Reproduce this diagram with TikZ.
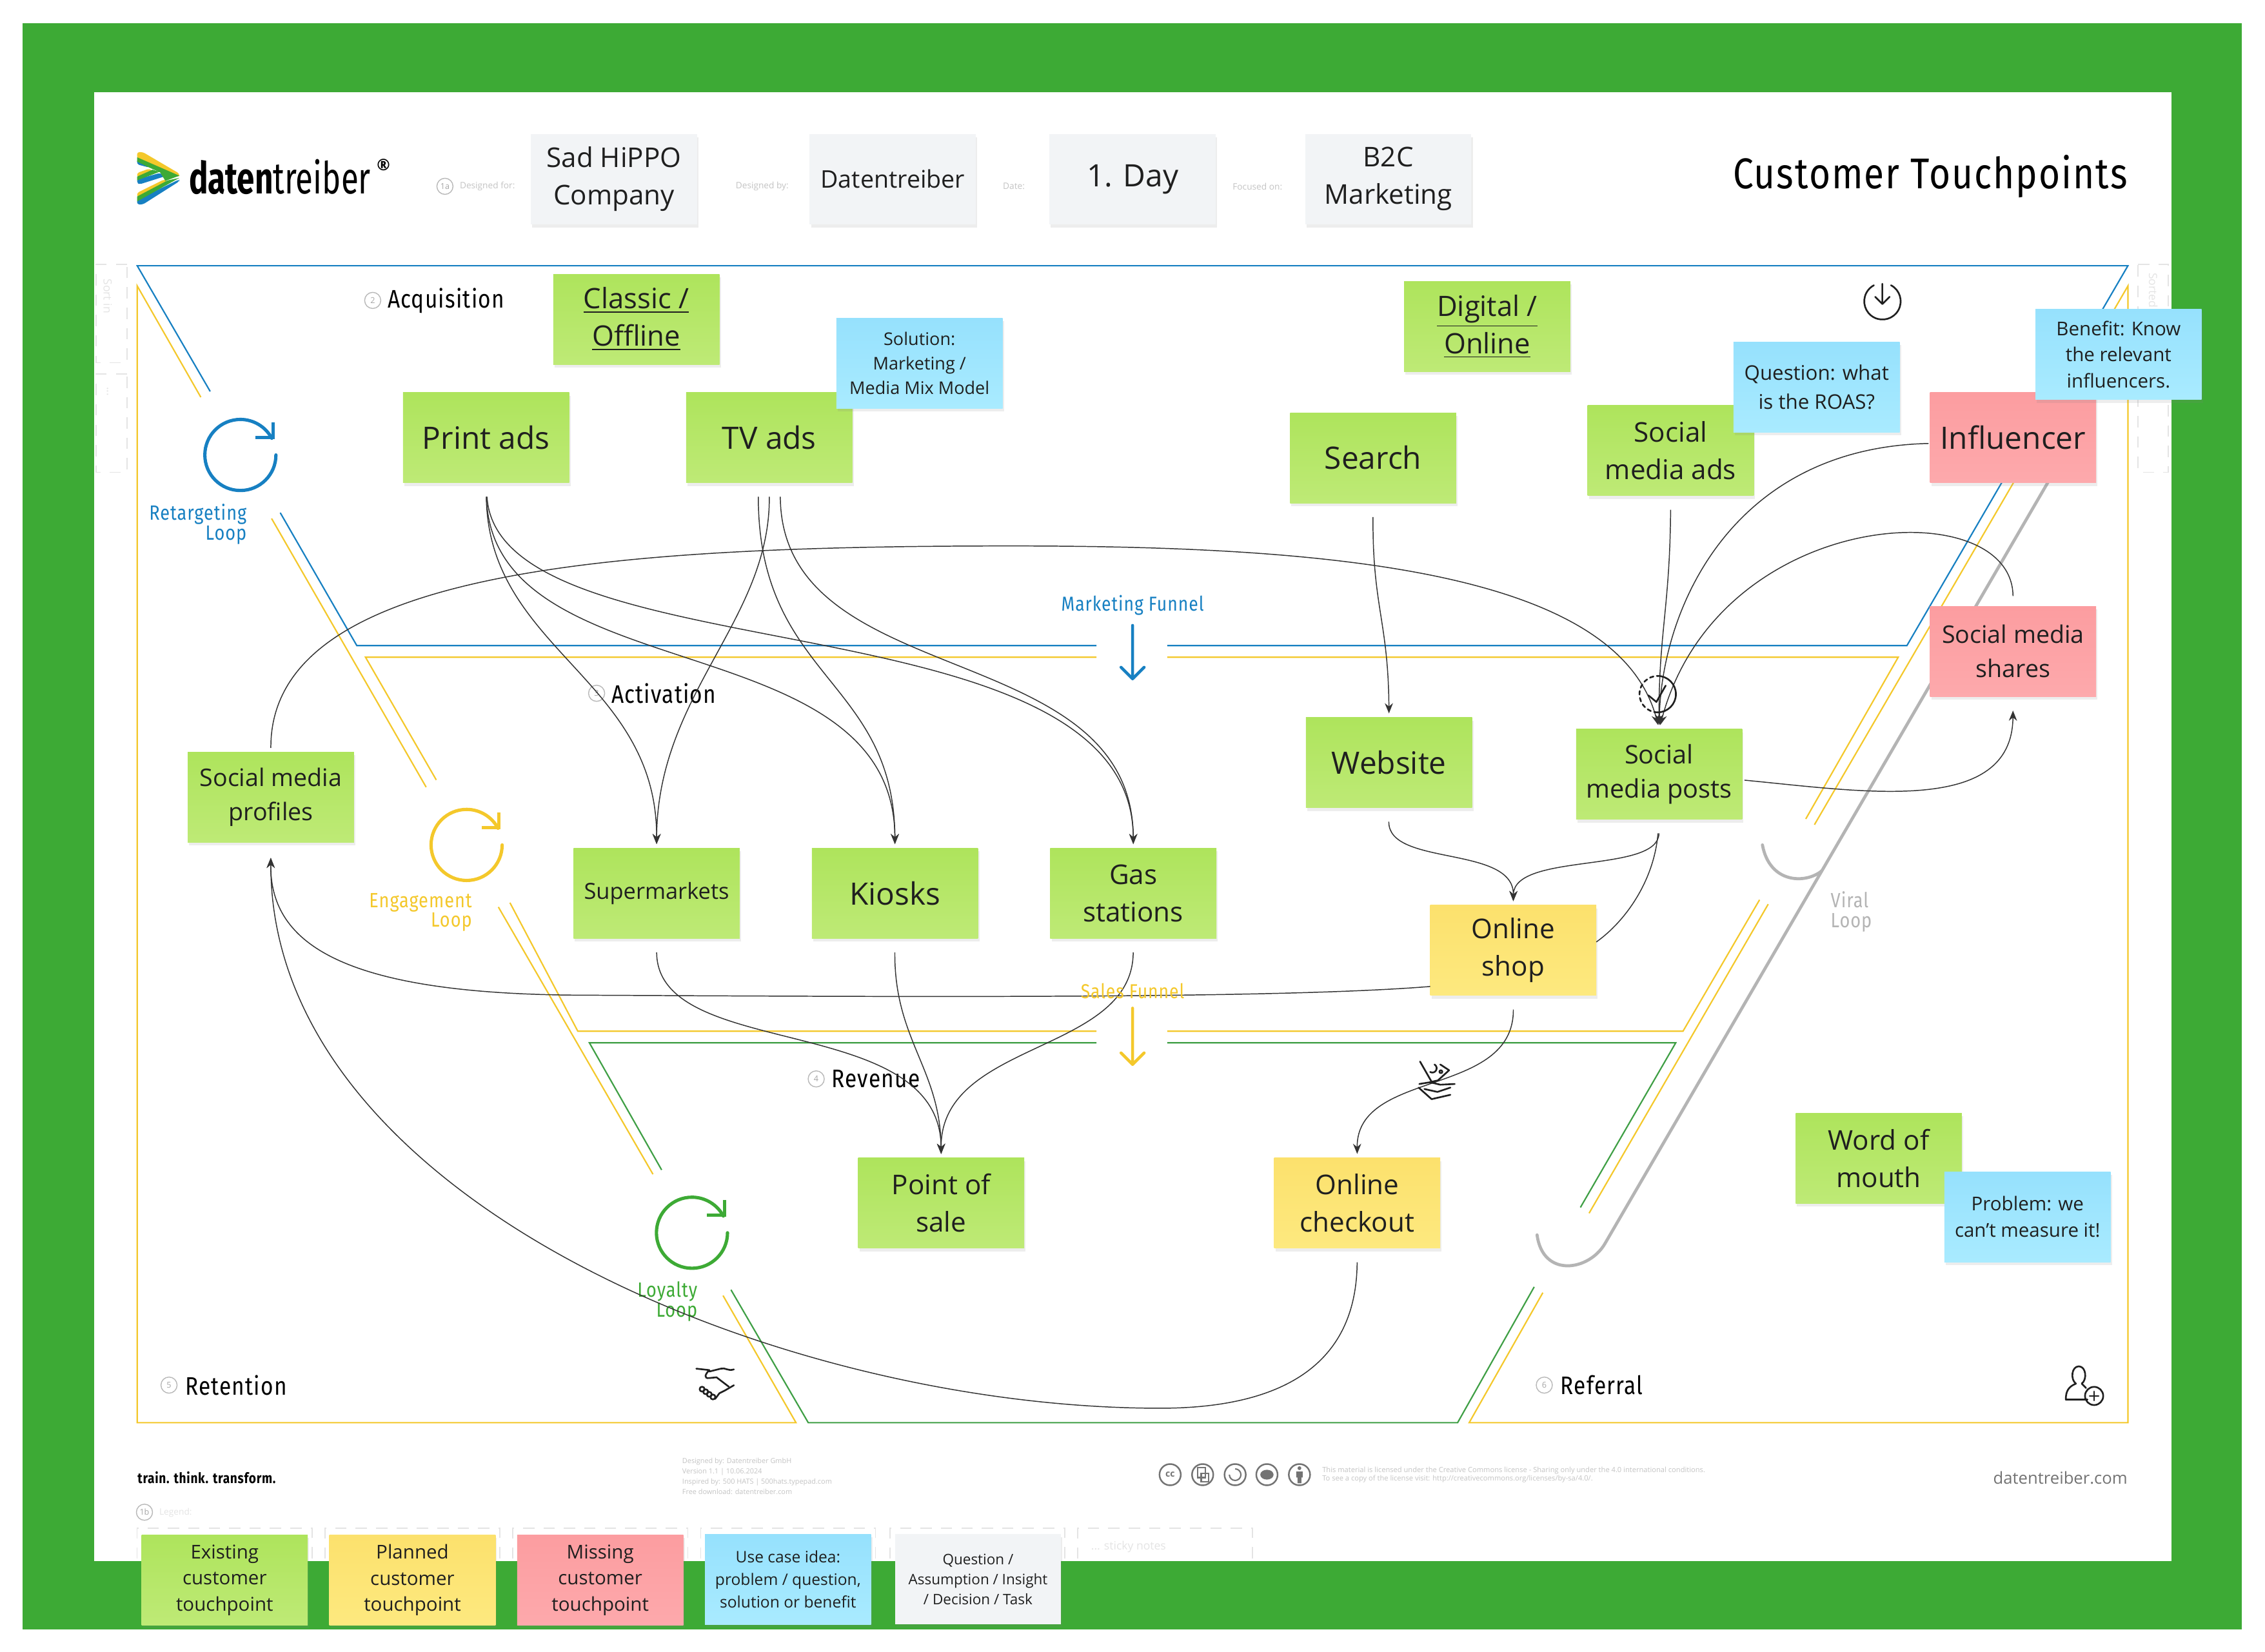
\documentclass[tikz,border=0pt]{standalone}
\usepackage{fontspec}
\setmainfont{Open Sans}
\newfontfamily\dtfont[FakeStretch=0.85,LetterSpace=3]{Fira Sans}
\newfontfamily\logofont[FakeStretch=0.72]{Fira Sans}
\usetikzlibrary{arrows.meta,shadows}
\definecolor{framegreen}{HTML}{3DAA35}
\definecolor{funnelblue}{HTML}{1780C2}
\definecolor{funnelyellow}{HTML}{F4C82B}
\definecolor{funnelgreen}{HTML}{3F9F45}
\definecolor{viralgrey}{HTML}{B4B4B4}
\definecolor{paleline}{HTML}{E4E4E4}
\definecolor{paletext}{HTML}{C4C4C4}
\definecolor{greenA}{HTML}{AEE45C}
\definecolor{greenB}{HTML}{BEEA76}
\definecolor{yellowA}{HTML}{FCE16D}
\definecolor{yellowB}{HTML}{FDE97F}
\definecolor{redA}{HTML}{FC9DA0}
\definecolor{redB}{HTML}{FDA9AC}
\definecolor{blueA}{HTML}{96E1FD}
\definecolor{blueB}{HTML}{A9EBFF}
\definecolor{greyA}{HTML}{F2F4F6}
\tikzset{
    note/.style={rectangle,minimum width=2.576cm,minimum height=1.4cm,align=center,inner sep=0pt,outer sep=0pt,
        text=black!88,drop shadow={shadow xshift=0.6pt,shadow yshift=-1.4pt,opacity=0.14}},
    greennote/.style={note,top color=greenA,bottom color=greenB},
    yellownote/.style={note,top color=yellowA,bottom color=yellowB},
    rednote/.style={note,top color=redA,bottom color=redB},
    bluenote/.style={note,top color=blueA,bottom color=blueB},
    greynote/.style={note,fill=greyA},
    nudge/.style={execute at begin node={\rule{0pt}{#1}}},
    fontA/.style={font=\fontsize{13.6pt}{16.5pt}\selectfont},
    fontB/.style={font=\fontsize{12pt}{16.5pt}\selectfont},
    fontC/.style={font=\fontsize{10.7pt}{15pt}\selectfont},
    fontD/.style={font=\fontsize{8.4pt}{11.5pt}\selectfont},
    fontE/.style={font=\fontsize{7.7pt}{10.8pt}\selectfont},
    fontF/.style={font=\fontsize{7pt}{10pt}\selectfont},
    fontG/.style={font=\fontsize{6.4pt}{8.9pt}\selectfont},
    flow/.style={->,>={Stealth[length=4.5pt,width=3.6pt]},line width=0.42pt,draw=black!80,shorten <=6.2pt,shorten >=1.8pt},
    plainflow/.style={line width=0.42pt,draw=black!80,shorten <=6.2pt},
    stage/.style={font=\dtfont\fontsize{11.2pt}{11pt}\selectfont,anchor=west,inner sep=0pt},
    looptext/.style={font=\dtfont\fontsize{9.1pt}{8.8pt}\selectfont,inner sep=0pt,align=right},
    numdot/.style={circle,draw=black!28,line width=0.4pt,minimum size=0.25cm,inner sep=0pt,text=black!35,font=\fontsize{3.6pt}{4pt}\selectfont},
    fieldtext/.style={font=\fontsize{3.9pt}{4pt}\selectfont,text=paletext,inner sep=0pt,anchor=west},
    sortbox/.style={draw=paleline,dash pattern=on 5pt off 4pt,line width=0.4pt},
    sortlabel/.style={rotate=-90,font=\fontsize{5pt}{5pt}\selectfont,text=paleline},
    funnelline/.style={line width=0.62pt},
    ccmark/.style={circle,draw=black!55,line width=0.7pt,minimum size=0.33cm,inner sep=0pt,font=\bfseries\fontsize{4pt}{4pt}\selectfont,text=black!55},
    glyph/.style={line width=0.75pt,draw=black!88,line cap=round,line join=round},
}
\begin{document}
\begin{tikzpicture}[x=0.0224cm,y=-0.0224cm]
    \useasboundingbox (0,0) rectangle (1567.9,1143.75);
    % frame
    \fill[framegreen] (15.5,16) rectangle (1552,1128);
    \fill[white] (65,64) rectangle (1503,1081);
    % side boxes
    \draw[sortbox] (88,183) -- (66.5,183) -- (66.5,251) -- (88,251) -- cycle;
    \draw[sortbox] (88,259) -- (66.5,259) -- (66.5,327) -- (88,327) -- cycle;
    \draw[sortbox] (1480,183) -- (1501,183) -- (1501,251) -- (1480,251) -- cycle;
    \draw[sortbox] (1480,259) -- (1501,259) -- (1501,327) -- (1480,327) -- cycle;
    \node[sortlabel] (sortin) at (74.5,205) {Sort in};
    \node[sortlabel] (sortdots) at (74.5,271) {...};
    \node[sortlabel] (sorted) at (1490.5,201) {Sorted};
    \node[sortlabel] (sortmore) at (1490.5,271) {...};
    % legend boxes
    \foreach \bx in {95,225,355,485,616,746}
        \draw[sortbox] (\bx+121,1079) -- (\bx+121,1058) -- (\bx,1058) -- (\bx,1079);
    \node[font=\fontsize{5pt}{5pt}\selectfont,text=paleline,anchor=west,inner sep=0pt] (stickytext) at (755,1071) {... sticky notes};
    % marketing funnel
    \draw[funnelline,funnelblue] (145.5,271) -- (95,184) -- (1473,184) -- (1320,447) -- (808,447);
    \draw[funnelline,funnelblue] (194,355) -- (247,447) -- (759,447);
    % sales funnel
    \draw[funnelline,funnelyellow] (139,275) -- (95,198) -- (95,985) -- (551,985) -- (500.5,897);
    \draw[funnelline,funnelyellow] (188,359) -- (295,545);
    \draw[funnelline,funnelyellow] (302,540) -- (253,455) -- (759,455);
    \draw[funnelline,funnelyellow] (808,455) -- (1314,455) -- (1250,567);
    \draw[funnelline,funnelyellow] (1256,571) -- (1473,198) -- (1473,985) -- (1017,985) -- (1068,895);
    \draw[funnelline,funnelyellow] (345,628) -- (452,813);
    \draw[funnelline,funnelyellow] (353,625) -- (400,714) -- (759,714);
    \draw[funnelline,funnelyellow] (808,714) -- (1165,714) -- (1218,623);
    \draw[funnelline,funnelyellow] (1100,840) -- (1224,626);
    % revenue funnel
    \draw[funnelline,funnelgreen] (458,810) -- (408,722) -- (759,722);
    \draw[funnelline,funnelgreen] (808,722) -- (1160,722) -- (1094,836);
    \draw[funnelline,funnelgreen] (506,893) -- (559.5,985) -- (1009,985) -- (1062,891);
    % viral loop
    \draw[viralgrey,line width=1.35pt,line cap=round] (1417.6,334) -- (1111,861) .. controls (1100,880) and (1068,885) .. (1064,855);
    \draw[viralgrey,line width=1.35pt,line cap=round] (1261,603) .. controls (1250,612) and (1225,612) .. (1220,585);
    \node[looptext,text=viralgrey,align=left,anchor=north west] (viralloop) at (1267,617) {Viral\\Loop};
    % loops
    \foreach \cx/\cy/\loopcol in {166.4/315/funnelblue,323/585/funnelyellow,479/853.5/framegreen}{
        \draw[\loopcol,line width=1.45pt,line cap=round] (\cx+24.6,\cy) arc (0:332:24.6);
        \draw[\loopcol,line width=1.45pt,line join=miter] (\cx+10.5,\cy-12) -- (\cx+22.5,\cy-12) -- (\cx+22.5,\cy-22.5);
    }
    \node[looptext,text=funnelblue,anchor=north east] (retargeting) at (171,348.5) {Retargeting\\Loop};
    \node[looptext,text=funnelyellow,anchor=north east] (engagement) at (327,618) {Engagement\\Loop};
    \node[looptext,text=framegreen,anchor=north east] (loyalty) at (483,887) {Loyalty\\Loop};
    % funnel arrows
    \draw[funnelblue,line width=1.3pt,line cap=round,line join=round] (784,433) -- (784,470) (776,462) -- (784,470) -- (792,462);
    \draw[funnelyellow,line width=1.3pt,line cap=round,line join=round] (784,698) -- (784,737) (776,729) -- (784,737) -- (792,729);
    \node[font=\dtfont\fontsize{8.9pt}{9pt}\selectfont,text=funnelblue,inner sep=0pt] (marketingfunnel) at (784,419) {Marketing Funnel};
    % header
    \node[greynote,fontB,nudge=14pt] (company) at (425,124) {Sad HiPPO\\Company};
    \node[greynote,fontC] (designer) at (618,124) {Datentreiber};
    \node[greynote,fontA] (day) at (784,124) {1. Day};
    \node[greynote,fontB,nudge=14pt] (focus) at (961,124) {B2C\\Marketing};
    \node[numdot] (numA) at (308,129) {1a};
    \node[fieldtext] (designedfor) at (318,129) {Designed for:};
    \node[fieldtext] (designedby) at (509,129) {Designed by:};
    \node[fieldtext] (datefield) at (694,129) {Date:};
    \node[fieldtext] (focusedon) at (853,129) {Focused on:};
    \node[font=\dtfont\fontsize{19pt}{19pt}\selectfont,anchor=east,inner sep=0pt] (title) at (1473,122) {Customer Touchpoints};
    % logo
    \begin{scope}[shift={(84.8,93.75)},x=0.00333cm,y=-0.00333cm]
        \fill[funnelblue,rounded corners=1pt] (68,110) -- (125,150) -- (68,135) -- cycle;
        \fill[funnelblue,rounded corners=1pt] (68,205) -- (175,175) -- (200,190) -- (80,228) -- (68,222) -- cycle;
        \fill[funnelblue,rounded corners=1pt] (68,300) -- (265,205) -- (265,214) -- (95,322) -- (68,322) -- cycle;
        \fill[funnelyellow,rounded corners=1pt] (68,175) -- (125,155) -- (140,165) -- (68,195) -- cycle;
        \fill[funnelyellow,rounded corners=1pt] (68,268) -- (195,205) -- (210,212) -- (68,288) -- cycle;
        \fill[funnelyellow,rounded corners=1pt] (68,78) -- (95,78) -- (265,178) -- (265,195) -- (68,108) -- cycle;
        \fill[framegreen] (68,102) -- (265,188) -- (200,212) -- (175,172) -- (125,150) -- (68,122) -- cycle;
        \fill[framegreen] (68,192) -- (140,160) -- (172,170) -- (68,210) -- cycle;
        \fill[framegreen] (68,285) -- (210,210) -- (265,198) -- (68,308) -- cycle;
    \end{scope}
    \node[font=\logofont\fontsize{19.5pt}{20pt}\selectfont,anchor=west,inner sep=0pt] (logotext) at (130.5,122.5) {\textbf{daten}treiber};
    \node[font=\bfseries\fontsize{7pt}{7pt}\selectfont,inner sep=0pt] (regmark) at (265.5,114) {®};
    % stages
    \node[numdot] (numB) at (258,208) {2};
    \node[stage] (acquisition) at (268,208) {Acquisition};
    \node[numdot] (numC) at (413,480) {3};
    \node[stage] (activation) at (423,480) {Activation};
    \node[numdot] (numD) at (565,747) {4};
    \node[stage] (revenue) at (575.5,747) {Revenue};
    \node[numdot] (numE) at (117,959) {5};
    \node[stage] (retention) at (128,959) {Retention};
    \node[numdot] (numF) at (1069,959) {6};
    \node[stage] (referral) at (1080,959) {Referral};
    % touchpoints
    \node[greennote,font=\fontsize{12.4pt}{16.5pt}\selectfont,nudge=13pt] (classic) at (440.5,221) {\underline{Classic /}\\\underline{Offline}};
    \node[greennote,font=\fontsize{12.4pt}{16.5pt}\selectfont,nudge=13pt] (digital) at (1029.5,226) {\underline{Digital /}\\\underline{Online}};
    \node[greennote,fontA] (print) at (336.5,303) {Print ads};
    \node[greennote,fontA] (tv) at (532.5,303) {TV ads};
    \node[bluenote,fontE] (solution) at (636.5,251.5) {Solution:\\Marketing /\\Media Mix Model};
    \node[greennote,fontA] (search) at (950.5,317) {Search};
    \node[greennote,fontB] (socialads) at (1156.5,312) {Social\\media ads};
    \node[bluenote,font=\fontsize{8.9pt}{12.7pt}\selectfont] (question) at (1257.5,268) {Question: what\\is the ROAS?};
    \node[rednote,fontA] (influencer) at (1393.5,303) {Influencer};
    \node[bluenote,fontD] (benefit) at (1466.5,245.5) {Benefit: Know\\the relevant\\influencers.};
    \node[rednote,fontC] (shares) at (1393.5,451) {Social media\\shares};
    \node[greennote,fontA] (website) at (961.5,528) {Website};
    \node[greennote,font=\fontsize{11.3pt}{15pt}\selectfont,nudge=13pt] (posts) at (1148.5,536) {Social\\media posts};
    \node[greennote,fontC,nudge=13pt] (profiles) at (187.5,552) {Social media\\profiles};
    \node[greennote,font=\fontsize{9.8pt}{12pt}\selectfont] (super) at (454.5,618.5) {Supermarkets};
    \node[greennote,fontA] (kiosks) at (619.5,618.5) {Kiosks};
    \node[greennote,fontB] (gas) at (784.5,618.5) {Gas\\stations};
    \node[yellownote,fontB,nudge=14pt] (shop) at (1047.5,658) {Online\\shop};
    \node[greennote,fontB] (pos) at (651.5,833) {Point of\\sale};
    \node[yellownote,fontB] (checkout) at (939.5,833) {Online\\checkout};
    \node[greennote,fontB] (mouth) at (1300.5,802) {Word of\\mouth};
    \node[bluenote,fontD] (problem) at (1403.5,842.5) {Problem: we\\can\char"27t measure it!};
    % legend
    \node[greennote,fontD] (legendA) at (155.5,1094) {Existing\\customer\\touchpoint};
    \node[yellownote,fontD] (legendB) at (285.5,1094) {Planned\\customer\\touchpoint};
    \node[rednote,fontD] (legendC) at (415.5,1094) {Missing\\customer\\touchpoint};
    \node[bluenote,fontF] (legendD) at (545.5,1093.5) {Use case idea:\\problem / question,\\solution or benefit};
    \node[greynote,fontG] (legendE) at (677,1093.5) {Question /\\Assumption / Insight\\/ Decision / Task};
    % connectors
    \draw[flow] (print.south) .. controls (338,450) and (455,470) .. (super.north);
    \draw[flow] (print.south) .. controls (340,480) and (619,430) .. (kiosks.north);
    \draw[flow] (print.south) .. controls (345,470) and (784,410) .. (gas.north);
    \draw[flow] (tv.south) .. controls (533,430) and (455,480) .. (super.north);
    \draw[flow] ([xshift=-1.7mm]tv.south) .. controls (525,470) and (619,470) .. (kiosks.north);
    \draw[flow] ([xshift=1.7mm]tv.south) .. controls (541,480) and (784,440) .. (gas.north);
    \draw[flow] (search.south) .. controls (950,420) and (961,430) .. (website.north);
    \draw[flow] (socialads.south) .. controls (1156,420) and (1148,440) .. (posts.north);
    \draw[flow,shorten <=0.6pt] ([yshift=-0.9mm]influencer.west) .. controls (1200,310) and (1150,420) .. (posts.north);
    \draw[flow,shorten <=4.5pt] (shares.north) .. controls (1393,340) and (1190,350) .. (posts.north);
    \draw[flow,shorten <=1.9pt] (profiles.north) .. controls (187,395) and (420,378) .. (700,378) .. controls (920,378) and (1120,395) .. (posts.north);
    \draw[flow,shorten <=1pt,shorten >=6.2pt] ([yshift=-0.9mm]posts.east) .. controls (1290,548) and (1393,565) .. (shares.south);
    \draw[flow] (website.south) .. controls (961,600) and (1048,585) .. (shop.north);
    \draw[flow] (posts.south) .. controls (1148,605) and (1048,590) .. (shop.north);
    \draw[plainflow] (posts.south) .. controls (1145,610) and (1125,638) .. ([yshift=1.3mm]shop.east);
    \draw[flow,shorten <=0pt,shorten >=6.8pt] ([yshift=-5.6mm]shop.west) .. controls (880,692) and (600,690) .. (400,689) .. controls (230,688) and (187,650) .. (profiles.south);
    \draw[flow] (shop.south) .. controls (1048,760) and (939,740) .. (checkout.north);
    \draw[flow] (super.south) .. controls (455,735) and (651,700) .. (pos.north);
    \draw[flow] (kiosks.south) .. controls (619,720) and (651,740) .. (pos.north);
    \draw[flow] (gas.south) .. controls (784,730) and (651,720) .. (pos.north);
    \draw[flow,shorten >=6.8pt] (checkout.south) .. controls (939,950) and (880,975) .. (803,975) .. controls (540,975) and (187,830) .. (profiles.south);
    \node[font=\dtfont\fontsize{8.9pt}{9pt}\selectfont,text=funnelyellow,inner sep=0pt] (salesfunnel) at (784,686) {Sales Funnel};
    % tick circle
    \draw[glyph] (1147.5,468) arc (-90:90:12.6);
    \draw[glyph,dash pattern=on 1.6pt off 1.5pt] (1147.5,493.2) arc (90:270:12.6);
    \draw[glyph] (1141,481.4) -- (1146.6,486) -- (1153,474.7);
    % download icon
    \draw[glyph] (1309,197.5) arc (-62:242:12.6);
    \draw[glyph] (1303,196.5) -- (1303,210.5) (1298,205.5) -- (1303,210.5) -- (1308,205.5);
    % handshake
    \begin{scope}[shift={(495,958.6)},glyph]
        \draw (-13,-11) -- (-4,-10) .. controls (-7,-7) and (-8,-4) .. (-4,-4.5) -- (1,-5) -- (9.5,1.5);
        \draw (13,-10.5) .. controls (9,-9) and (7,-12) .. (4,-11) -- (-4,-9);
        \draw (13,0.5) -- (7,4) -- (3,6) -- (0,10);
        \foreach \hx/\hy in {-9/3.2,-6.5/5,-4/6.8,-1.5/8.6}
            \draw (\hx,\hy) circle (1.7);
    \end{scope}
    % money hand
    \begin{scope}[shift={(994,748)},glyph]
        \draw (-11,-13) -- (-3,1) -- (1.4,0) -- (9.1,-7) -- (3,-11);
        \draw (-1,-11) arc (-60:120:3);
        \draw (3.4,-6) circle (1);
        \draw (-12,5) -- (-3,13) -- (10,10) (-11.5,2.5) -- (-4,1.3) -- (3,3) -- (13,2.5) (-8,6) -- (1,8) -- (10,5);
    \end{scope}
    % person plus
    \begin{scope}[glyph]
        \draw (1445,969) -- (1430,969) .. controls (1430,963) and (1432,960) .. (1437,958) .. controls (1433,955) and (1434,946) .. (1439,946) .. controls (1444,946) and (1445,955) .. (1441,958) .. controls (1442,959) and (1443,960) .. (1444,961);
        \draw (1449.6,966.5) circle (6.3);
        \draw (1446.5,966.5) -- (1452.7,966.5) (1449.6,963.4) -- (1449.6,969.6);
    \end{scope}
    % footer
    \node[font=\dtfont\bfseries\fontsize{6.4pt}{6pt}\selectfont,anchor=west,inner sep=0pt] (slogan) at (95,1023) {train. think. transform.};
    \node[font=\fontsize{3.1pt}{4.6pt}\selectfont,text=paletext,align=left,anchor=west,inner sep=0pt] (imprint) at (472,1022) {Designed by: Datentreiber GmbH\\Version 1.1 | 10.06.2024\\Inspired by: 500 HATS | 500hats.typepad.com\\Free download: datentreiber.com};
    \node[ccmark] (ccA) at (810,1021) {cc};
    \node[ccmark] (ccB) at (832.5,1021) {};
    \node[ccmark] (ccC) at (855,1021) {};
    \node[ccmark] (ccD) at (877,1021) {};
    \node[ccmark] (ccE) at (899.5,1021) {};
    \draw[black!55,line width=0.6pt] (829,1016) rectangle (834.5,1023) (831.5,1020) rectangle (836.5,1026);
    \draw[black!55,line width=0.6pt] (851,1021) arc (180:-90:4);
    \fill[black!55] (877,1021) ellipse (4.6 and 3.4);
    \fill[black!55] (899.5,1016.5) circle (1.3) (897.3,1018.8) rectangle (901.7,1023) (898.2,1023) rectangle (900.8,1027);
    \node[font=\fontsize{3.17pt}{3.8pt}\selectfont,text=paletext,align=left,anchor=west,inner sep=0pt] (licence) at (915,1021) {This material is licensed under the Creative Commons license - Sharing only under the 4.0 international conditions.\\To see a copy of the license visit: http://creativecommons.org/licenses/by-sa/4.0/.};
    \node[font=\fontsize{7.3pt}{7.5pt}\selectfont,text=black!55,anchor=east,inner sep=0pt] (homepage) at (1473,1023) {datentreiber.com};
    \node[numdot] (numG) at (100,1047) {1b};
    \node[fieldtext,text=paleline] (legendtitle) at (110,1047.5) {Legend:};
\end{tikzpicture}
\end{document}
